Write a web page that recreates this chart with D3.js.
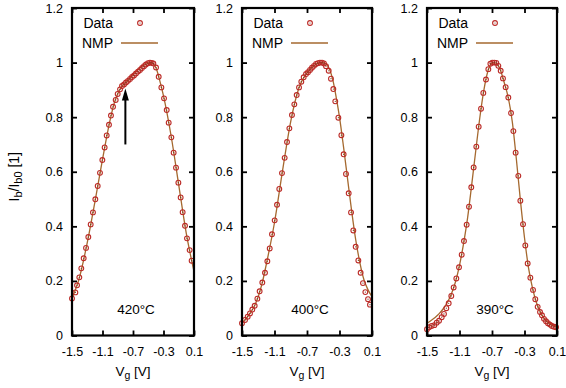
<!DOCTYPE html>
<html><head><meta charset="utf-8">
<script src="https://cdn.jsdelivr.net/npm/d3@7"></script>
<style>body{margin:0;background:#fff}svg{display:block;font-family:"Liberation Sans",Arial,Helvetica,sans-serif}</style>
</head><body><svg id="c" width="566" height="388"></svg>
<script>
const xTicks = [-1.5, -1.1, -0.7, -0.3, 0.1];
const yTicks = [0, 0.2, 0.4, 0.6, 0.8, 1, 1.2];
const temps = ["420°C", "400°C", "390°C"];
const seriesNames = ["Data", "NMP"];

const vg420 = [-1.5,-1.456,-1.434,-1.404,-1.378,-1.347,-1.316,-1.286,-1.255,-1.225,-1.194,-1.163,-1.133,-1.102,-1.072,-1.045,-1.015,-0.989,-0.962,-0.927,-0.901,-0.870,-0.844,-0.818,-0.792,-0.766,-0.739,-0.713,-0.687,-0.661,-0.634,-0.608,-0.582,-0.556,-0.530,-0.503,-0.477,-0.455,-0.433,-0.398,-0.363,-0.328,-0.293,-0.258,-0.232,-0.197,-0.167,-0.136,-0.105,-0.075,-0.049,-0.018,0.008,0.043,0.069];
const data420 = [0.136,0.158,0.184,0.213,0.246,0.283,0.321,0.361,0.407,0.451,0.499,0.548,0.596,0.643,0.689,0.733,0.772,0.806,0.838,0.863,0.885,0.902,0.914,0.920,0.927,0.933,0.940,0.947,0.953,0.960,0.967,0.973,0.980,0.987,0.993,0.998,1.0,0.999,0.997,0.982,0.948,0.909,0.869,0.826,0.780,0.726,0.670,0.615,0.560,0.506,0.452,0.402,0.356,0.313,0.274];
const nmpVg420 = [-1.5,-1.4,-1.3,-1.2,-1.1,-1.0,-0.95,-0.9,-0.85,-0.8,-0.7,-0.6,-0.5,-0.47,-0.44,-0.4,-0.35,-0.3,-0.2,-0.1,0,0.1];
const nmp420 = [0.136,0.215,0.340,0.489,0.645,0.790,0.848,0.886,0.911,0.925,0.956,0.983,0.998,1.0,0.997,0.982,0.935,0.878,0.731,0.551,0.372,0.235];

const vg400 = [-1.5,-1.463,-1.430,-1.402,-1.373,-1.344,-1.311,-1.283,-1.250,-1.217,-1.188,-1.159,-1.131,-1.098,-1.069,-1.041,-1.008,-0.975,-0.946,-0.917,-0.885,-0.856,-0.827,-0.798,-0.770,-0.741,-0.712,-0.688,-0.663,-0.639,-0.614,-0.589,-0.565,-0.540,-0.515,-0.491,-0.466,-0.433,-0.405,-0.376,-0.352,-0.314,-0.277,-0.249,-0.220,-0.187,-0.158,-0.130,-0.101,-0.068,-0.040,-0.011,0.018,0.051,0.075];
const data400 = [0.045,0.057,0.069,0.081,0.095,0.109,0.135,0.162,0.194,0.230,0.272,0.319,0.371,0.422,0.479,0.537,0.595,0.651,0.709,0.759,0.808,0.847,0.881,0.909,0.930,0.946,0.958,0.965,0.973,0.981,0.988,0.995,0.998,1.0,1.0,0.997,0.987,0.970,0.941,0.903,0.858,0.798,0.734,0.664,0.592,0.521,0.451,0.385,0.325,0.275,0.230,0.192,0.159,0.133,0.113];
const nmpVg400 = [-1.5,-1.45,-1.4,-1.35,-1.3,-1.25,-1.2,-1.1,-1.0,-0.9,-0.8,-0.7,-0.6,-0.55,-0.5,-0.46,-0.42,-0.38,-0.34,-0.3,-0.25,-0.2,-0.15,-0.1,-0.05,0,0.05,0.1];
const nmp400 = [0.045,0.062,0.082,0.106,0.143,0.194,0.262,0.414,0.606,0.785,0.907,0.962,0.992,0.999,1.0,0.994,0.974,0.934,0.872,0.800,0.690,0.572,0.455,0.350,0.268,0.205,0.168,0.142];

const vg390 = [-1.5,-1.475,-1.443,-1.41,-1.381,-1.352,-1.319,-1.291,-1.262,-1.233,-1.201,-1.172,-1.139,-1.106,-1.073,-1.045,-1.012,-0.983,-0.955,-0.926,-0.893,-0.864,-0.835,-0.807,-0.774,-0.745,-0.720,-0.696,-0.671,-0.647,-0.622,-0.593,-0.565,-0.532,-0.499,-0.466,-0.437,-0.409,-0.376,-0.351,-0.318,-0.290,-0.261,-0.228,-0.195,-0.167,-0.138,-0.109,-0.085,-0.060,-0.035,-0.011,0.014,0.038,0.063,0.088];
const data390 = [0.023,0.030,0.035,0.038,0.047,0.054,0.067,0.079,0.100,0.118,0.145,0.176,0.209,0.250,0.296,0.346,0.406,0.472,0.543,0.616,0.692,0.765,0.831,0.889,0.938,0.976,0.996,1.0,1.0,0.999,0.988,0.970,0.942,0.910,0.872,0.815,0.749,0.670,0.585,0.494,0.408,0.330,0.264,0.212,0.167,0.133,0.105,0.086,0.074,0.061,0.052,0.045,0.040,0.035,0.032,0.030];
const nmpVg390 = [-1.5,-1.45,-1.4,-1.35,-1.3,-1.25,-1.2,-1.15,-1.1,-1.05,-1.0,-0.95,-0.9,-0.85,-0.8,-0.75,-0.7,-0.67,-0.64,-0.6,-0.55,-0.5,-0.45,-0.4,-0.35,-0.3,-0.25,-0.2,-0.15,-0.1,-0.05,0,0.05,0.1];
const nmp390 = [0.045,0.055,0.066,0.080,0.098,0.121,0.152,0.196,0.257,0.337,0.432,0.552,0.677,0.798,0.899,0.969,0.998,1.0,0.995,0.976,0.927,0.872,0.783,0.646,0.494,0.358,0.247,0.172,0.118,0.083,0.059,0.046,0.037,0.032];

// arrow annotation in panel 1 (data coords)
const arrowVg = -0.80, arrowFrom = 0.70, arrowTo = 0.905;

const panelsData = [
  {vg: vg420, d: data420, nv: nmpVg420, n: nmp420},
  {vg: vg400, d: data400, nv: nmpVg400, n: nmp400},
  {vg: vg390, d: data390, nv: nmpVg390, n: nmp390}
];
const boxes = [{l:72, r:194}, {l:242, r:372}, {l:427, r:557}];
const TOP = 8, BOT = 335.5;
const dataColor = "#bb2a26", lineColor = "#a5692f", dotColor = "#7a3a20";
const R = 2.4;

const svg = d3.select("#c");

panelsData.forEach((p, i) => {
  const b = boxes[i];
  const x = d3.scaleLinear().domain([-1.5, 0.1]).range([b.l, b.r]);
  const y = d3.scaleLinear().domain([0, 1.2]).range([BOT, TOP]);
  const g = svg.append("g");

  const ax = (gen, tr, labels) => {
    const a = g.append("g").attr("transform", tr).call(gen);
    a.select(".domain").remove();
    a.selectAll(".tick line").attr("stroke", "#000").attr("stroke-width", 1.8);
    a.selectAll("text").attr("font-size", 12.5).attr("fill", "#000").attr("font-family", null);
    if (!labels) a.selectAll("text").remove();
    return a;
  };
  ax(d3.axisBottom(x).tickValues(xTicks).tickFormat(d => String(d)).tickSizeInner(-5).tickSizeOuter(0).tickPadding(11.5), `translate(0,${BOT})`, true);
  ax(d3.axisTop(x).tickValues(xTicks).tickSizeInner(-5).tickSizeOuter(0), `translate(0,${TOP})`, false);
  ax(d3.axisLeft(y).tickValues(yTicks).tickFormat(d => String(d)).tickSizeInner(-5).tickSizeOuter(0).tickPadding(9), `translate(${b.l},0)`, true);
  ax(d3.axisRight(y).tickValues(yTicks).tickSizeInner(-5).tickSizeOuter(0), `translate(${b.r},0)`, false);

  // NMP line
  const pts = p.nv.map((v, k) => [v, p.n[k]]);
  g.append("path")
    .attr("d", d3.line().x(d => x(d[0])).y(d => y(d[1])).curve(d3.curveMonotoneX)(pts))
    .attr("fill", "none").attr("stroke", lineColor).attr("stroke-width", 1.3);

  // data points
  const dp = p.vg.map((v, k) => [v, p.d[k]]);
  g.append("g").selectAll("circle").data(dp).join("circle")
    .attr("cx", d => x(d[0])).attr("cy", d => y(d[1])).attr("r", R)
    .attr("fill", "none").attr("stroke", dataColor).attr("stroke-width", 1.1);
  g.append("g").selectAll("circle").data(dp).join("circle")
    .attr("cx", d => x(d[0])).attr("cy", d => y(d[1])).attr("r", 0.6)
    .attr("fill", dotColor);

  // frame
  g.append("rect").attr("x", b.l).attr("y", TOP).attr("width", b.r - b.l).attr("height", BOT - TOP)
    .attr("fill", "none").attr("stroke", "#000").attr("stroke-width", 2.2);

  // legend
  const lx = b.l + 41;
  g.append("text").attr("x", lx).attr("y", 28).attr("text-anchor", "end").attr("font-size", 14).text(seriesNames[0]);
  g.append("circle").attr("cx", b.l + 68).attr("cy", 23).attr("r", R).attr("fill", "none").attr("stroke", dataColor).attr("stroke-width", 1.1);
  g.append("circle").attr("cx", b.l + 68).attr("cy", 23).attr("r", 0.6).attr("fill", dotColor);
  g.append("text").attr("x", lx).attr("y", 48).attr("text-anchor", "end").attr("font-size", 14).text(seriesNames[1]);
  g.append("line").attr("x1", b.l + 49).attr("x2", b.l + 86).attr("y1", 43).attr("y2", 43)
    .attr("stroke", lineColor).attr("stroke-width", 1.6);

  // temperature label
  g.append("text").attr("x", (b.l + b.r) / 2 + 3).attr("y", 313.5).attr("text-anchor", "middle")
    .attr("font-size", 13.5).text(temps[i]);

  // x label
  const xl = g.append("text").attr("x", (b.l + b.r) / 2).attr("y", 376).attr("text-anchor", "middle").attr("font-size", 13.5);
  xl.append("tspan").text("V");
  xl.append("tspan").attr("dy", 3).attr("font-size", 10.5).text("g");
  xl.append("tspan").attr("dy", -3).text(" [V]");

  if (i === 0) {
    const ax0 = x(arrowVg), y0 = y(arrowFrom), y1 = y(arrowTo);
    g.append("line").attr("x1", ax0).attr("x2", ax0).attr("y1", y0).attr("y2", y1 + 10)
      .attr("stroke", "#000").attr("stroke-width", 2);
    g.append("path").attr("d", `M${ax0},${y1} L${ax0 - 3.5},${y1 + 12} L${ax0 + 3.5},${y1 + 12} Z`).attr("fill", "#000");
    const yl = svg.append("text").attr("transform", `translate(19,${(TOP + BOT) / 2 + 5}) rotate(-90)`)
      .attr("text-anchor", "middle").attr("font-size", 14);
    yl.append("tspan").text("I");
    yl.append("tspan").attr("dy", 3).attr("font-size", 11).text("b");
    yl.append("tspan").attr("dy", -3).text("/I");
    yl.append("tspan").attr("dy", 3).attr("font-size", 11).text("b0");
    yl.append("tspan").attr("dy", -3).text(" [1]");
  }
});
</script></body></html>
